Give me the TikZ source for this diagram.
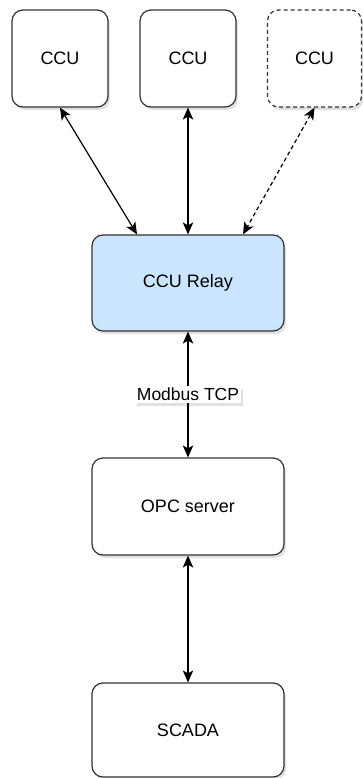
\documentclass[tikz,border=0pt]{standalone}
\usepackage{fontspec}
\setmainfont{Liberation Sans}
\usetikzlibrary{arrows.meta, shadows}
\definecolor{relayblue}{HTML}{CCE5FF}
\definecolor{edge}{HTML}{333333}

\begin{document}
\begin{tikzpicture}[x=1pt, y=1pt,
    box/.style={draw=edge, line width=1.2pt, rounded corners=11pt, fill=white,
      minimum width=192pt, minimum height=96pt, font=\fontsize{18}{21}\selectfont,
      drop shadow={shadow xshift=2pt, shadow yshift=-3pt, opacity=0.12, fill=black}},
    ccubox/.style={box, minimum width=96pt, minimum height=97pt},
    link/.style={draw=black, line width=1.2pt, {Stealth[length=12pt, width=10.5pt, inset=3pt]}-{Stealth[length=12pt, width=10.5pt, inset=3pt]}}]
  \useasboundingbox (0, 0) rectangle (362, -778);

  % field units
  \node[ccubox] (ccua) at (60, -58.5) {CCU};
  \node[ccubox] (ccub) at (188, -58.5) {CCU};
  \node[ccubox, dash pattern=on 4pt off 3pt, minimum width=94pt] (ccuc) at (314.5, -58.5) {CCU};

  % relay and upper levels
  \node[box, fill=relayblue] (relay) at (188, -283) {CCU Relay};
  \node[box, minimum height=97pt] (opc) at (188, -506.5) {OPC server};
  \node[box, minimum height=94pt] (scada) at (188, -730) {SCADA};

  \draw[link] (ccua.south) -- ([xshift=-51pt]relay.north);
  \draw[link] (ccub.south) -- (relay.north);
  \draw[link, dash pattern=on 4pt off 3pt] (ccuc.south) -- ([xshift=55pt]relay.north);

  \draw[link] (relay) -- (opc)
    node[midway, fill=white, inner sep=2pt, font=\fontsize{17.5}{20}\selectfont,
      drop shadow={shadow xshift=2pt, shadow yshift=-3pt, opacity=0.12, fill=black}] (modbus) {Modbus TCP};
  \draw[link] (opc) -- (scada);
\end{tikzpicture}
\end{document}
